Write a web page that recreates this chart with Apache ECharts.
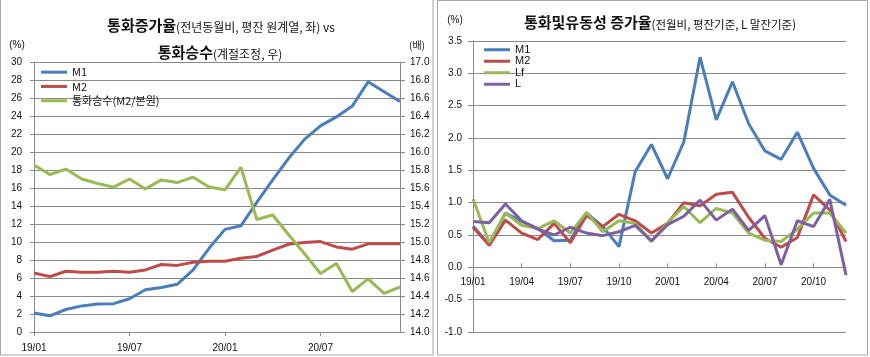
<!DOCTYPE html>
<html>
<head>
<meta charset="utf-8">
<script src="https://cdn.jsdelivr.net/npm/echarts@6/dist/echarts.min.js"></script>
<style>
html,body{margin:0;padding:0;background:#fff;}
#wrap{position:relative;width:870px;height:357px;}
#cl{position:absolute;left:0;top:0;width:435px;height:357px;}
#cr{position:absolute;left:435px;top:0;width:435px;height:357px;}
</style>
</head>
<body>
<div id="wrap"><div id="cl"></div><div id="cr"></div></div>
<script>
// ---- data ----
const months = ['19/01','19/02','19/03','19/04','19/05','19/06','19/07','19/08','19/09','19/10','19/11','19/12',
                '20/01','20/02','20/03','20/04','20/05','20/06','20/07','20/08','20/09','20/10','20/11','20/12'];
// left chart: YoY growth (%) and money multiplier (times)
const yoyM1 = [2.1, 1.8, 2.5, 2.9, 3.1, 3.15, 3.7, 4.7, 4.95, 5.3, 6.9, 9.3, 11.4, 11.8, 14.4, 16.9, 19.3, 21.4, 22.9, 23.9, 25.1, 27.8, 26.7, 25.6];
const yoyM2 = [6.55, 6.15, 6.75, 6.65, 6.65, 6.75, 6.65, 6.9, 7.5, 7.4, 7.75, 7.87, 7.87, 8.2, 8.4, 9.1, 9.75, 9.95, 10.05, 9.45, 9.2, 9.8, 9.8, 9.8];
const multiplier = [15.855, 15.75, 15.81, 15.70, 15.65, 15.61, 15.70, 15.59, 15.69, 15.66, 15.72, 15.61, 15.58, 15.83, 15.25, 15.30, 15.08, 14.87, 14.65, 14.76, 14.45, 14.59, 14.43, 14.50];
// right chart: MoM growth (%)
const momM1 = [0.64, 0.35, 0.84, 0.71, 0.60, 0.41, 0.42, 0.84, 0.63, 0.32, 1.48, 1.90, 1.37, 1.94, 3.25, 2.28, 2.87, 2.22, 1.80, 1.67, 2.09, 1.53, 1.12, 0.96];
const momM2 = [0.62, 0.34, 0.73, 0.53, 0.43, 0.68, 0.38, 0.80, 0.63, 0.82, 0.72, 0.53, 0.68, 1.00, 0.95, 1.13, 1.16, 0.77, 0.45, 0.31, 0.46, 1.12, 0.89, 0.40];
const momLf = [1.06, 0.38, 0.84, 0.65, 0.60, 0.72, 0.53, 0.85, 0.55, 0.72, 0.68, 0.40, 0.69, 0.94, 0.69, 0.91, 0.84, 0.53, 0.42, 0.40, 0.59, 0.84, 0.84, 0.53];
const momL  = [0.71, 0.69, 0.98, 0.72, 0.59, 0.50, 0.62, 0.53, 0.49, 0.55, 0.65, 0.41, 0.66, 0.79, 1.04, 0.73, 0.90, 0.57, 0.80, 0.04, 0.72, 0.63, 1.05, -0.12];
const leftNames = ['M1', 'M2', '통화승수(M2/본원)'];
const rightNames = ['M1', 'M2', 'Lf', 'L'];

const KR = '"Noto Sans CJK KR", "Liberation Sans", sans-serif';
const NUM = '"Liberation Sans", Arial, sans-serif';
const C = {blue:'#4A7EBB', red:'#BE4B48', green:'#98B954', purple:'#7D60A0'};
const GRID = '#8a8a8a';

function line(name, data, color, yi){
  return {type:'line', name, data, yAxisIndex:yi||0, symbol:'none', smooth:false,
          color, lineStyle:{width:3, color}, itemStyle:{color}, animation:false};
}
const axLabel = {fontFamily:NUM, fontSize:10, color:'#111'};
function richTitle(x, y, text, subSize){
  return {type:'text', x, y, style:{text, align:'center', verticalAlign:'middle',
    rich:{a:{fontFamily:KR, fontSize:15, fontWeight:'bold', fill:'#111', verticalAlign:'bottom', lineHeight:20},
          b:{fontFamily:KR, fontSize:subSize, fill:'#111', verticalAlign:'bottom', lineHeight:18}}}};
}

// ---- left chart ----
const left = echarts.init(document.getElementById('cl'), null, {renderer:'canvas'});
left.setOption({
  animation:false,
  grid:{left:34, top:62, width:366, height:270},
  xAxis:{type:'category', data:months, boundaryGap:false,
     axisLine:{lineStyle:{color:GRID}}, axisTick:{interval:5, length:4, lineStyle:{color:GRID}},
     axisLabel:Object.assign({interval:5, margin:11}, axLabel), splitLine:{show:false}},
  yAxis:[
    {type:'value', min:0, max:30, interval:2, position:'left',
     axisLine:{show:true, lineStyle:{color:GRID}}, axisTick:{show:true, length:4, lineStyle:{color:GRID}},
     axisLabel:Object.assign({margin:12}, axLabel), splitLine:{lineStyle:{color:GRID}}},
    {type:'value', min:14, max:17, interval:0.2, position:'right',
     axisLine:{show:true, lineStyle:{color:GRID}}, axisTick:{show:true, length:5, lineStyle:{color:GRID}},
     axisLabel:Object.assign({margin:10, formatter:v=>v.toFixed(1)}, axLabel), splitLine:{show:false}}
  ],
  legend:{data:leftNames, orient:'vertical', left:41, top:65, padding:0, icon:'rect', itemWidth:26, itemHeight:3, itemGap:0,
     textStyle:{fontFamily:KR, fontSize:11, color:'#111', lineHeight:14.3}, selectedMode:false},
  graphic:[
    {type:'rect', shape:{x:0.5, y:-2, width:432.5, height:357}, style:{fill:'none', stroke:'#a8a8a8', lineWidth:1}, silent:true},
    richTitle(221, 23, '{a|통화증가율}{b|(전년동월비, 평잔 원계열, 좌) vs}', 12),
    richTitle(220, 50, '{a|통화승수}{b|(계절조정, 우)}', 12),
    {type:'text', x:17, y:45, style:{text:'(%)', align:'center', verticalAlign:'middle', font:'10px "Liberation Sans", sans-serif', fill:'#111'}},
    {type:'text', x:417, y:45, style:{text:'(배)', align:'center', verticalAlign:'middle', font:'10px "Noto Sans CJK KR", sans-serif', fill:'#111'}}
  ],
  series:[
    line(leftNames[0], yoyM1, C.blue, 0),
    line(leftNames[1], yoyM2, C.red, 0),
    line(leftNames[2], multiplier, C.green, 1)
  ]
});

// ---- right chart ----
const rMin = -1, rMax = 3.5, rGridH = 291;
// place the category axis at value 0 (axis crosses at zero)
const zeroOffset = -((0 - rMin) / (rMax - rMin)) * rGridH;
const right = echarts.init(document.getElementById('cr'), null, {renderer:'canvas'});
right.setOption({
  animation:false,
  grid:{left:38, top:41, width:373, height:rGridH},
  xAxis:{type:'category', data:months, boundaryGap:false, position:'bottom', offset:zeroOffset,
     axisLine:{onZero:false, lineStyle:{color:GRID}},
     axisTick:{interval:2, inside:true, length:4, lineStyle:{color:GRID}},
     axisLabel:Object.assign({interval:2, margin:10}, axLabel), splitLine:{show:false}},
  yAxis:{type:'value', min:rMin, max:rMax, interval:0.5,
     axisLine:{show:true, lineStyle:{color:GRID}}, axisTick:{show:true, length:5, lineStyle:{color:GRID}},
     axisLabel:Object.assign({margin:11, formatter:v=>v.toFixed(1)}, axLabel), splitLine:{lineStyle:{color:GRID}}},
  legend:{data:rightNames, orient:'vertical', left:49, top:44, padding:0, icon:'rect', itemWidth:26, itemHeight:3, itemGap:0,
     textStyle:{fontFamily:NUM, fontSize:11, color:'#111', lineHeight:11.5}, selectedMode:false},
  graphic:[
    {type:'rect', shape:{x:2.5, y:0.5, width:430, height:354.5}, style:{fill:'none', stroke:'#a8a8a8', lineWidth:1}, silent:true},
    richTitle(225, 20, '{a|통화및유동성 증가율}{b|(전월비, 평잔기준, L 말잔기준)}', 11.5),
    {type:'text', x:20, y:20, style:{text:'(%)', align:'center', verticalAlign:'middle', font:'10px "Liberation Sans", sans-serif', fill:'#111'}}
  ],
  series:[
    line(rightNames[0], momM1, C.blue),
    line(rightNames[1], momM2, C.red),
    line(rightNames[2], momLf, C.green),
    line(rightNames[3], momL, C.purple)
  ]
});
</script>
</body>
</html>
